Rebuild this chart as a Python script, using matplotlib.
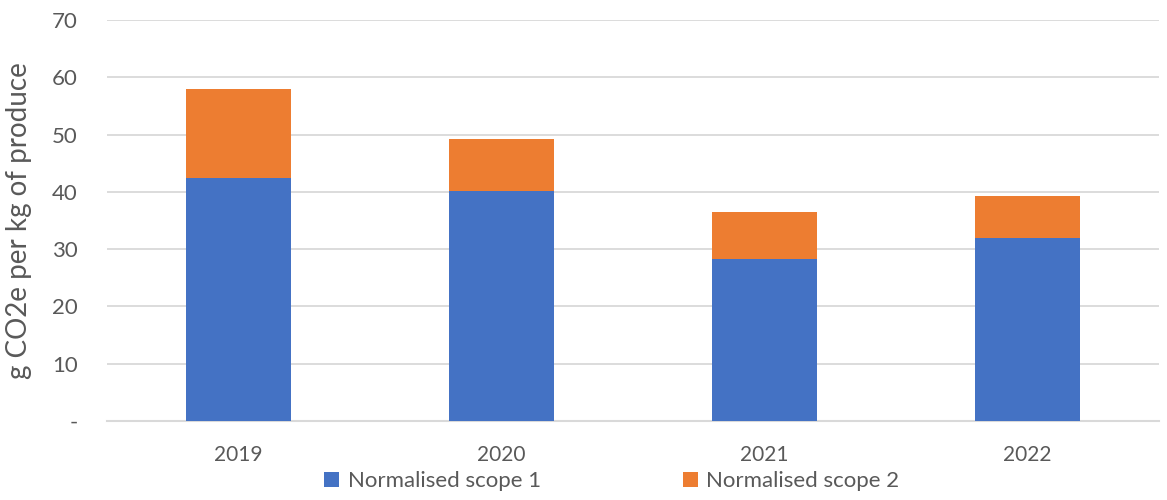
import numpy as np
import matplotlib.pyplot as plt

years = ['2019', '2020', '2021', '2022']
scope1 = [42.4, 40.1, 28.2, 32.0]
scope2 = [15.6, 9.1, 8.3, 7.2]
yticks = [0, 10, 20, 30, 40, 50, 60, 70]
ytick_labels = ['-', '10', '20', '30', '40', '50', '60', '70']

plt.rcParams['font.family'] = ['Lato', 'DejaVu Sans']
text_col = '#595959'

fig = plt.figure(figsize=(11.67, 5), dpi=100)
ax = fig.add_axes([0.0917, 0.158, 0.9015, 0.802])

x = np.arange(len(years))
ax.bar(x, scope1, width=0.4, color='#4472C4', label='Normalised scope 1', zorder=3)
ax.bar(x, scope2, width=0.4, bottom=scope1, color='#ED7D31', label='Normalised scope 2', zorder=3)

ax.set_xlim(-0.5, len(years) - 0.5)
ax.set_ylim(0, 70)
ax.set_yticks(yticks)
ax.set_yticklabels(ytick_labels)
ax.set_xticks(x)
ax.set_xticklabels(years)
ax.tick_params(axis='both', length=0, colors=text_col)
ax.tick_params(axis='y', pad=21, labelsize=16)
ax.tick_params(axis='x', pad=17, labelsize=15)
ax.yaxis.grid(True, color='#D9D9D9', linewidth=1.3, zorder=0)
for s in ['top', 'right', 'left']:
    ax.spines[s].set_visible(False)
ax.spines['bottom'].set_color('#D9D9D9')
ax.spines['bottom'].set_linewidth(1.5)

ax.set_ylabel('g CO2e per kg of produce', fontsize=20, color=text_col)
ax.yaxis.set_label_coords(-0.071, 0.5)

ax.legend(loc='upper center', bbox_to_anchor=(0.48, -0.075), ncol=2, frameon=False,
          fontsize=16, labelcolor=text_col, handlelength=0.65, handleheight=0.65,
          handletextpad=0.4, columnspacing=6.4)

fig.savefig('out.png', dpi=100)
